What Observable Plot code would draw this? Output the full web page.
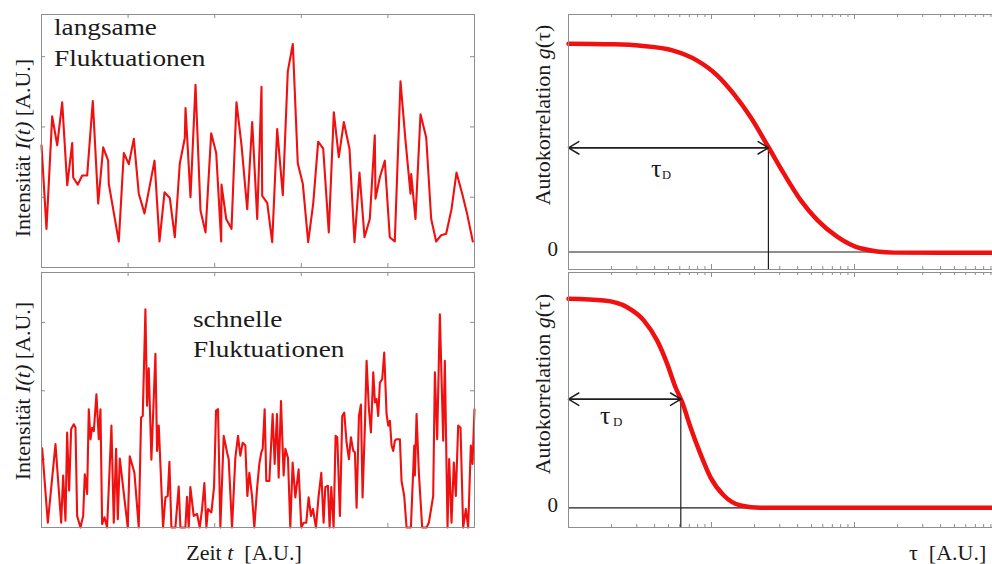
<!DOCTYPE html>
<html><head><meta charset="utf-8">
<script src="https://cdn.jsdelivr.net/npm/d3@7"></script>
<script src="https://cdn.jsdelivr.net/npm/@observablehq/plot@0.6"></script>
<style>
html,body{margin:0;padding:0;background:#fff;overflow:hidden;}
#chart{position:relative;width:992px;height:564px;overflow:hidden;font-family:"Liberation Serif","Times New Roman",serif;color:#1a1a1a;}
#chart svg{position:absolute;left:0;top:0;max-width:none;background:transparent;}
.lbl{position:absolute;white-space:nowrap;line-height:1;}
</style></head><body><div id="chart"></div>
<script>
// ---- data (arbitrary units) ----
const timeTicks = [20, 40, 60, 80];
const intensityTicks = [1, 2, 3];

// slow fluctuations: [t, I]
const slowSeries = [
[0,1.74],[1.15,0.55],[2.47,2.15],[3.63,1.74],[4.78,2.35],[5.94,1.17],[7.09,1.77],[7.32,1.28],[8.38,1.18],[9.40,1.31],
[10.55,1.31],[11.85,2.37],[13.09,0.91],[14.25,1.71],[15.40,1.52],[15.54,1.19],[17.85,0.37],[19.01,1.63],[20.16,1.47],[21.32,1.83],
[22.47,1.05],[23.79,0.77],[26.10,1.52],[27.25,0.37],[28.41,1.07],[29.63,0.99],[30.79,0.43],[31.94,1.48],[33.09,1.84],[33.26,2.27],
[34.41,1.00],[35.57,2.60],[36.72,0.81],[37.88,0.50],[39.19,1.91],[40.35,1.63],[41.50,0.37],[41.57,1.18],[42.66,0.69],[43.88,0.55],
[45.03,2.35],[46.19,1.74],[47.51,0.83],[48.66,2.07],[49.82,0.69],[50.81,2.57],[50.97,1.02],[52.13,0.92],[53.28,0.36],[54.43,1.97],
[55.73,1.03],[56.88,2.79],[58.04,3.18],[59.19,1.48],[60.35,1.19],[61.59,0.36],[62.75,0.91],[63.90,1.79],[65.06,1.69],[66.35,0.50],
[67.51,2.21],[68.66,1.57],[69.82,2.07],[71.13,1.69],[72.29,0.36],[73.44,1.35],[74.60,0.43],[75.82,0.69],[76.97,1.88],[77.14,0.98],
[78.13,1.28],[79.28,1.52],[80.44,0.43],[81.59,0.37],[82.91,2.65],[84.06,1.81],[85.22,1.05],[85.38,1.33],[86.37,0.69],[87.53,2.18],
[88.85,1.85],[90.00,0.69],[91.15,0.37],[92.31,0.46],[93.46,0.48],[94.69,0.83],[95.84,1.35],[97.16,1.05],[98.31,0.76],[99.61,0.37]
];

// fast fluctuations: [t, I]
const fastSeries = [
[0.15,1.16],[1.46,0.07],[3.23,1.22],[4.54,0.07],[5.0,0.76],[5.54,0.10],[5.92,1.39],[6.38,0.54],[6.85,1.44],[7.46,1.51],
[7.85,1.46],[8.23,0.17],[9.0,0],[9.62,0.17],[10.0,0.78],[10.54,0.49],[10.92,1.73],[11.31,1.29],[11.69,1.46],[12.08,1.41],
[12.69,1.95],[13.23,1.29],[13.62,1.73],[14.0,0.05],[14.54,0.15],[15.15,0],[16.15,1.49],[16.69,0.07],[17.23,1.15],[17.62,0.12],
[18.08,1.01],[19.92,0],[20.38,1.04],[21.46,0.80],[22.46,0],[23.0,1.61],[23.38,1.63],[24.0,3.19],[24.38,1.78],[24.77,2.33],
[25.38,0.99],[26.31,2.54],[26.69,1.12],[27.08,1.49],[28.08,0],[28.62,0.44],[29.15,0.46],[29.54,0.96],[30.0,0],[30.92,0],
[31.69,0.60],[32.08,0],[33.23,0],[33.6,0.45],[34.0,0],[34.38,0.59],[35.15,0.17],[35.92,0.20],[36.54,0],[37.08,0.27],
[37.62,0.65],[38.08,0],[38.46,0.27],[39.23,0.22],[39.85,0.59],[40.31,1.71],[40.77,1.73],[41.31,0],[42.08,1.34],[42.85,1.10],
[43.23,1.0],[44.0,0],[44.77,1.02],[45.38,1.34],[45.92,1.05],[46.46,1.24],[47.08,1.20],[47.54,0.46],[48.0,0.80],[48.62,0.46],
[49.15,0],[49.77,0.56],[50.31,0.93],[50.77,1.10],[51.08,1.15],[51.54,1.73],[51.92,0.68],[52.62,0.68],[53.38,1.66],[53.85,0.93],
[54.38,1.66],[54.77,0.73],[55.31,1.85],[55.92,0.76],[56.31,1.15],[56.92,1.02],[57.46,0],[58.0,0.95],[58.62,0.44],[59.38,0.85],
[60.0,0],[60.54,0.07],[61.15,0.07],[61.69,0.44],[62.23,0.17],[62.69,0.27],[63.38,0],[64.0,0.46],[64.62,0.80],[65.15,0.07],
[65.54,0.59],[66.15,0.61],[66.54,0],[66.92,0.59],[67.46,0],[67.92,1.34],[68.31,1.32],[68.92,0.17],[69.46,1.63],[69.92,1.68],
[70.46,1.24],[71.0,1.0],[71.46,1.32],[72.0,1.12],[72.38,1.10],[72.77,0.29],[73.31,1.63],[73.77,1.80],[74.15,0.44],[74.69,1.49],
[75.08,2.44],[75.62,1.73],[76.08,1.39],[76.62,2.27],[77.0,1.83],[77.38,1.88],[77.77,1.63],[78.15,2.12],[78.69,2.17],[79.15,2.56],
[79.69,1.66],[80.08,1.49],[80.46,1.56],[80.85,1.20],[81.23,1.12],[81.62,1.27],[82.0,1.29],[82.77,1.29],[83.15,0.68],[83.77,0.46],
[84.31,0],[85.31,0],[86.08,1.20],[86.23,0.76],[86.62,1.66],[87.15,0.80],[87.92,0],[88.92,0],[89.46,0.07],[90.46,0.46],
[90.85,2.27],[91.38,1.29],[92.0,3.12],[92.77,1.27],[93.15,2.44],[93.77,0],[94.15,1.0],[94.69,0.07],[95.23,0.95],[95.69,0.46],
[96.23,1.49],[96.77,1.46],[97.38,0],[98.0,0.27],[98.54,0],[99.15,1.20],[99.54,0.93],[100,1.73]
];

// autocorrelation curves: [tau, g]
const acfSlow = [
[1,1.0],[2,0.997],[3.2,0.99],[5.4,0.967],[7.9,0.92],[11,0.847],[14.3,0.759],[18.8,0.647],[25,0.504],
[32,0.377],[42,0.249],[55,0.153],[76,0.073],[110,0.018],[190,-0.003],[400,-0.004],[10000,-0.004]
];
const acfFast = [
[1,1.0],[1.77,0.992],[2.57,0.96],[3.37,0.896],[4.17,0.80],[4.9,0.689],[5.6,0.577],[6.24,0.505],[7.13,0.386],
[8.37,0.258],[9.84,0.146],[12.2,0.059],[16,0.011],[22,0],[100,0],[10000,0]
];
const tauDSlow = 25, gHalfSlow = 0.5;
const tauDFast = 6.1, gHalfFast = 0.52;

// ---- layout / style ----
const W = 992, H = 564, WR = 1200;
const RED = "#f01010", FRAME = "#8e8e8e", INK = "#1e1e1e";
const chart = document.getElementById("chart");
const logTicks = d3.scaleLog().domain([1, 1e4]).ticks();
const majorLog = logTicks.filter(d => Math.abs(Math.log10(d) - Math.round(Math.log10(d))) < 1e-9);
const minorLog = logTicks.filter(d => !majorLog.includes(d));

function leftPanel(series, yMax, top, bottom) {
  const fh = bottom - top, left = 41, right = 474, fw = right - left;
  return Plot.plot({
    width: W, height: H,
    marginLeft: left, marginRight: W - right, marginTop: top, marginBottom: H - bottom,
    x: {domain: [0, 100], axis: null},
    y: {domain: [0, yMax], axis: null},
    marks: [
      Plot.tickX(timeTicks, {x: d => d, insetTop: fh - 4, stroke: FRAME}),
      Plot.tickX(timeTicks, {x: d => d, insetBottom: fh - 4, stroke: FRAME}),
      Plot.tickY(intensityTicks, {y: d => d, insetRight: fw - 4, stroke: FRAME}),
      Plot.tickY(intensityTicks, {y: d => d, insetLeft: fw - 4, stroke: FRAME}),
      Plot.line(series, {x: d => d[0], y: d => d[1], stroke: RED, strokeWidth: 2.1}),
      Plot.frame({stroke: FRAME})
    ]
  });
}

function rightPanel(curve, yDomain, top, bottom, tauD, gHalf) {
  const fh = bottom - top;
  return Plot.plot({
    width: WR, height: H,
    marginLeft: 568, marginRight: 60, marginTop: top, marginBottom: H - bottom,
    x: {type: "log", domain: [1, 1e4], axis: null},
    y: {domain: yDomain, axis: null},
    marks: [
      Plot.tickX(minorLog, {x: d => d, insetTop: fh - 3, stroke: FRAME}),
      Plot.tickX(minorLog, {x: d => d, insetBottom: fh - 3, stroke: FRAME}),
      Plot.tickX(majorLog, {x: d => d, insetTop: fh - 5, stroke: FRAME}),
      Plot.tickX(majorLog, {x: d => d, insetBottom: fh - 5, stroke: FRAME}),
      Plot.ruleY([0], {stroke: INK, strokeWidth: 1.2}),
      Plot.ruleX([{x: tauD, y1: gHalf, y2: yDomain[0]}], {x: "x", y1: "y1", y2: "y2", stroke: INK, strokeWidth: 1.2}),
      Plot.line(curve, {x: d => d[0], y: d => d[1], stroke: RED, strokeWidth: 4.5, curve: "monotone-x"}),
      Plot.arrow([{x1: tauD, x2: 1, y: gHalf}, {x1: 1, x2: tauD, y: gHalf}],
        {x1: "x1", x2: "x2", y1: "y", y2: "y", stroke: INK, strokeWidth: 1.5, headLength: 12, headAngle: 62}),
      Plot.frame({stroke: FRAME})
    ]
  });
}

chart.append(leftPanel(slowSeries, 3.6, 14, 267));
chart.append(leftPanel(fastSeries, 3.73, 272, 527));
chart.append(rightPanel(acfSlow, [-0.084, 1.14], 14, 269, tauDSlow, gHalfSlow));
chart.append(rightPanel(acfFast, [-0.094, 1.126], 272, 527, tauDFast, gHalfFast));

// ---- text ----
function label(html, o) {
  const d = document.createElement("div");
  d.className = "lbl";
  d.innerHTML = html;
  d.style.fontSize = o.size + "px";
  if (o.rotate) {
    d.style.left = o.x + "px";
    d.style.top = o.y + "px";
    d.style.transform = "translate(-50%,-50%) rotate(-90deg)";
  } else {
    d.style.left = o.x + "px";
    d.style.top = (o.baseline - 0.8375 * o.size) + "px";
    const tx = o.anchor === "middle" ? "translateX(-50%)" : o.anchor === "end" ? "translateX(-100%)" : "";
    d.style.transform = tx + (o.scaleX ? ` scaleX(${o.scaleX})` : "");
    d.style.transformOrigin = "left center";
  }
  chart.append(d);
}
label("langsame", {x: 54, baseline: 36, size: 23.5, scaleX: 1.16});
label("Fluktuationen", {x: 54, baseline: 67, size: 23.5, scaleX: 1.16});
label("schnelle", {x: 193, baseline: 328, size: 23.5, scaleX: 1.16});
label("Fluktuationen", {x: 193, baseline: 358, size: 23.5, scaleX: 1.16});
label("Intensität <i>I(t)</i> [A.U.]", {x: 23.3, y: 147.5, size: 22, rotate: true});
label("Intensität <i>I(t)</i> [A.U.]", {x: 23.3, y: 391, size: 22, rotate: true});
label("Zeit <i>t</i>&nbsp; [A.U.]", {x: 244, baseline: 560, size: 22, anchor: "middle"});
label("Autokorrelation <i>g</i>(τ)", {x: 542.6, y: 114.5, size: 22, rotate: true});
label("Autokorrelation <i>g</i>(τ)", {x: 542.6, y: 383.5, size: 22, rotate: true});
label("0", {x: 558, baseline: 257, size: 21, anchor: "end"});
label("0", {x: 558, baseline: 513, size: 21, anchor: "end"});
label("τ", {x: 651, baseline: 178, size: 26});
label("D", {x: 662, baseline: 179, size: 12.5});
label("τ", {x: 600, baseline: 425, size: 26});
label("D", {x: 613, baseline: 426, size: 13});
label("τ&nbsp; [A.U.]", {x: 909, baseline: 560, size: 22});
</script></body></html>
